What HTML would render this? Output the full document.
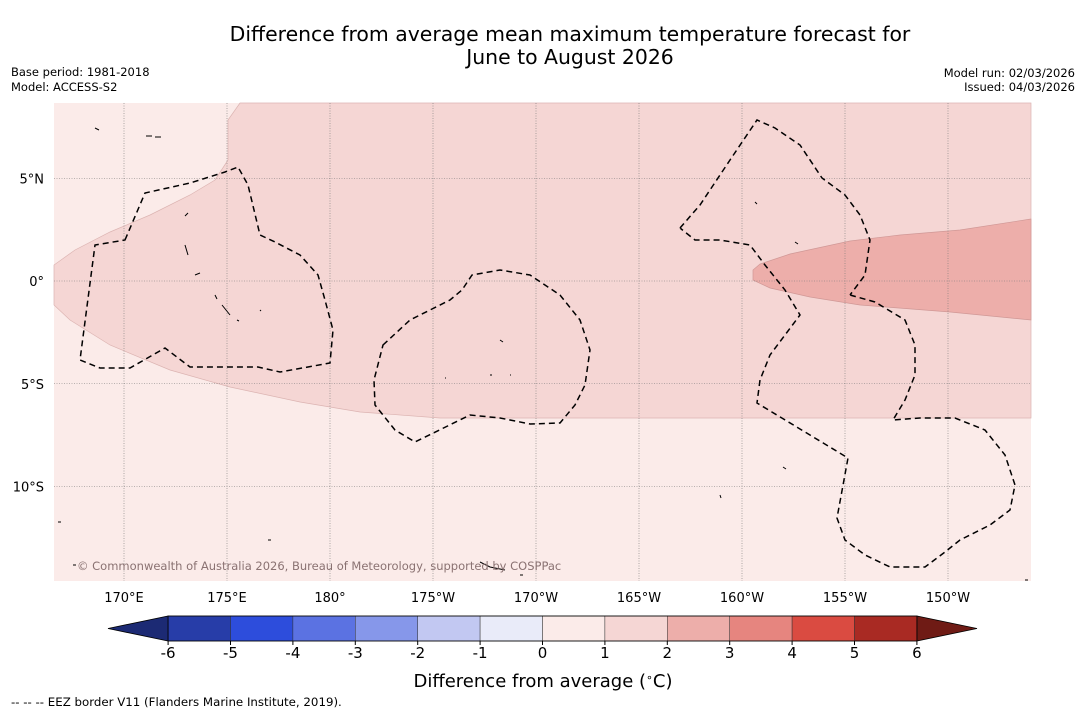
<!DOCTYPE html>
<html><head><meta charset="utf-8"><style>
body{margin:0;background:#fff;width:1085px;height:713px;overflow:hidden;font-family:"DejaVu Sans","Liberation Sans",sans-serif;}
svg{display:block}
</style></head><body>
<svg id="chart" width="1085" height="713" xmlns="http://www.w3.org/2000/svg" font-family="DejaVu Sans, Liberation Sans, sans-serif">
<text x="570" y="41" font-size="20.4" text-anchor="middle">Difference from average mean maximum temperature forecast for</text>
<text x="570" y="64" font-size="20.4" text-anchor="middle">June to August 2026</text>
<text x="11" y="76" font-size="11.5">Base period: 1981-2018</text>
<text x="11" y="91" font-size="11.5">Model: ACCESS-S2</text>
<text x="1075" y="77" font-size="11.5" text-anchor="end">Model run: 02/03/2026</text>
<text x="1075" y="91" font-size="11.5" text-anchor="end">Issued: 04/03/2026</text>
<g id="map">
<rect x="54" y="103" width="977" height="478" fill="#fbebe9"/>
<path fill="#f5d6d4" stroke="#dcb4b2" stroke-width="0.7" d="M240,103 L1031,103 L1031,418 L440,418 L360,412 L300,402 L230,387 L170,370 L110,345 L70,320 L54,305 L54,265 L75,250 L110,232 L150,215 L190,195 L215,180 L228,160 L228,120 Z"/>
<path fill="#edaeaa" stroke="#d09896" stroke-width="0.7" d="M1031,219 L960,230 L900,235 L850,241 L790,254 L760,264 L753,270 L753,280 L770,288 L810,297 L860,305 L950,312 L1031,320 Z"/>
<g id="grid" stroke="#777" stroke-width="0.6" stroke-dasharray="1,1.5"></g>
<g fill="none" stroke="#000" stroke-width="1.5" stroke-dasharray="6,4">
<path d="M125,240 L145,193 L190,183 L225,172 L238,167 L248,185 L260,235 L275,242 L300,255 L318,275 L325,300 L333,330 L330,363 L280,372 L258,367 L190,367 L165,348 L130,368 L100,368 L80,360 L95,245 Z"/>
<path d="M383,345 L410,320 L450,300 L462,290 L472,275 L500,270 L530,275 L560,295 L580,320 L590,350 L585,385 L575,405 L560,423 L530,424 L500,418 L470,415 L415,442 L395,430 L375,405 L374,380 Z"/>
<path d="M680,228 L700,205 L730,160 L757,120 L775,128 L800,145 L822,178 L845,195 L860,215 L870,240 L865,275 L850,295 M850,295 L875,302 L905,320 L915,345 L915,375 L905,400 L893,420 L920,418 L955,418 L985,430 L1005,455 L1015,485 L1010,510 L990,525 L960,540 L945,552 L925,567 L890,567 L865,555 L845,540 L837,518 L848,458 L757,403 L760,380 L770,355 L785,335 L800,315 L785,290 L765,265 L750,245 L720,240 L695,240 L680,228"/>
</g>
<g fill="none" stroke="#000" stroke-width="1">
<path d="M146,136 l6,0 M155,137 l6,0 M95,128 l4,2 M185,216 l3,-3 M185,245 l3,10 M195,275 l5,-2 M215,295 l2,4 M222,305 l8,10 M237,320 l2,1 M500,340 l3,2 M490,375 l2,0 M783,467 l3,2 M755,202 l2,2 M795,242 l3,2 M480,562 l10,5 L505,570 M73,565 l3,0 M58,522 l3,0 M268,540 l3,0 M520,575 l3,0 M720,495 l1,3 M1025,580 l3,0 M445,378 l1,0 M510,375 l1,0 M260,310 l1,1"/>
</g>
<text x="77" y="570" font-size="11.5" fill="#8a7272">© Commonwealth of Australia 2026, Bureau of Meteorology, supported by COSPPac</text>
</g>
<g id="axes" font-size="13"></g>
<g id="cbar"></g>
<text x="543" y="687" font-size="18" text-anchor="middle">Difference from average (<tspan font-size="11" dy="-6">∘</tspan><tspan dy="6">C)</tspan></text>
<text x="11" y="706" font-size="11.8">--  --  -- EEZ border V11 (Flanders Marine Institute, 2019).</text>
</svg>
<script>
const lonTicks=[170,175,180,185,190,195,200,205,210];
const lonLabels=["170°E","175°E","180°","175°W","170°W","165°W","160°W","155°W","150°W"];
const latTicks=[5,0,-5,-10];
const latLabels=["5°N","0°","5°S","10°S"];
const cbarLevels=[-6,-5,-4,-3,-2,-1,0,1,2,3,4,5,6];
const cbarColors=["#273da8","#2d4ddc","#5b72e2","#8697ea","#c2c8f2","#e9ebf9","#fbebe9","#f5d6d4","#edaeaa","#e6857f","#da4b41","#a92a23"];
const NS="http://www.w3.org/2000/svg";
const X=lon=>124+(lon-170)*20.6;
const Y=lat=>281-lat*20.55;
function mk(t,a,p){const e=document.createElementNS(NS,t);for(const k in a)e.setAttribute(k,a[k]);p.appendChild(e);return e;}
const grid=document.getElementById('grid'),axes=document.getElementById('axes');
lonTicks.forEach((v,i)=>{
 const l=mk('line',{x1:X(v),x2:X(v),y1:103,y2:581},grid);
 
 
 const t=mk('text',{x:X(v),y:602,'text-anchor':'middle'},axes);t.textContent=lonLabels[i];
 
 
});
latTicks.forEach((v,i)=>{
 const l=mk('line',{x1:54,x2:1031,y1:Y(v),y2:Y(v)},grid);
 
 
 const t=mk('text',{x:44,y:Y(v)+5,'text-anchor':'end'},axes);t.textContent=latLabels[i];
 
 
});
const cb=document.getElementById('cbar');
const C=v=>542.5+v*62.4, y0=616,y1=641;
const lt=mk('polygon',{points:`${C(-6)},${y0} ${C(-6)},${y1} 108,${(y0+y1)/2}`,fill:'#1c2a74',stroke:'#000','stroke-width':0.8},cb);


const rt=mk('polygon',{points:`${C(6)},${y0} ${C(6)},${y1} 977,${(y0+y1)/2}`,fill:'#6f1b15',stroke:'#000','stroke-width':0.8},cb);


cbarColors.forEach((c,i)=>{
 const r=mk('rect',{x:C(cbarLevels[i]),y:y0,width:C(cbarLevels[i+1])-C(cbarLevels[i]),height:y1-y0,fill:c,stroke:'#333','stroke-width':0.5},cb);
 
 
});
mk('rect',{x:C(-6),y:y0,width:C(6)-C(-6),height:y1-y0,fill:'none',stroke:'#000','stroke-width':0.8},cb);
cbarLevels.forEach(v=>{
 mk('line',{x1:C(v),x2:C(v),y1:y1,y2:y1+4,stroke:'#000'},cb);
 const t=mk('text',{x:C(v),y:658,'font-size':15,'text-anchor':'middle'},cb);t.textContent=v;
 
 
});
</script>
</body></html>
